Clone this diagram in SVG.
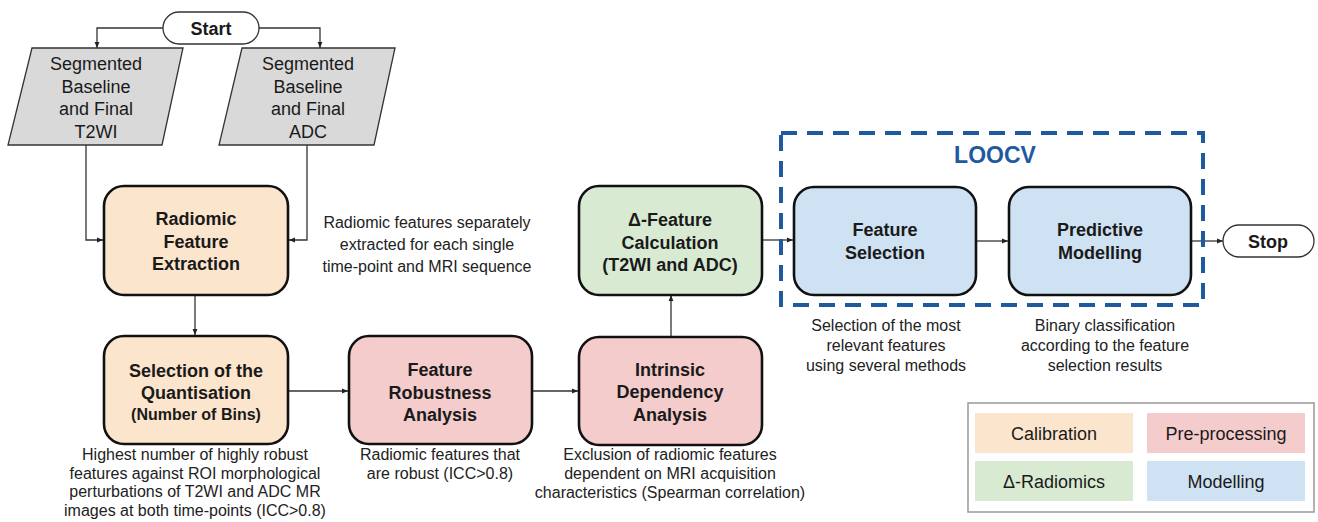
<svg xmlns="http://www.w3.org/2000/svg" width="1318" height="522" viewBox="0 0 1318 522">
<defs>
<marker id="arr" viewBox="0 0 10 10" refX="10" refY="5" markerWidth="6" markerHeight="6" orient="auto" markerUnits="userSpaceOnUse">
<path d="M0,1 L10,5 L0,9 z" fill="#222"/>
</marker>
<style>
.b{font-family:"Liberation Sans",Arial,sans-serif;font-weight:bold;font-size:18px;fill:#1a1a1a;text-anchor:middle}
.r{font-family:"Liberation Sans",Arial,sans-serif;font-size:18px;fill:#1a1a1a;text-anchor:middle}
.a{font-family:"Liberation Sans",Arial,sans-serif;font-size:16px;fill:#222;text-anchor:middle}
.box{stroke:#111;stroke-width:2.6}
.pill{fill:#fff;stroke:#333;stroke-width:1.3}
.cal{fill:#fce5cd}.pre{fill:#f4cccc}.del{fill:#d9ead3}.mod{fill:#cfe2f3}
.c{fill:none;stroke:#333;stroke-width:1.3;marker-end:url(#arr)}
</style>
</defs>
<rect width="1318" height="522" fill="#fff"/>

<g id="connectors">
<path class="c" d="M163,28 H97 V48"/>
<path class="c" d="M259,28 H320 V48"/>
<path class="c" d="M86,145 V240 H103"/>
<path class="c" d="M307,145 V240 H289"/>
<path class="c" d="M195,295 V335"/>
<path class="c" d="M288,391 H348"/>
<path class="c" d="M532,391 H578"/>
<path class="c" d="M671,337 V295"/>
<path class="c" d="M762,240 H793"/>
<path class="c" d="M976,241 H1008"/>
<path class="c" d="M1191,241 H1223"/>
</g>

<g id="start">
<rect class="pill" x="163" y="12" width="96" height="32" rx="16"/>
<text class="b" x="211" y="34.5">Start</text>
</g>

<g id="input-t2wi">
<polygon points="32,48 183,48 162,145 8,145" fill="#d9d9d9" stroke="#333" stroke-width="1.3"/>
<text class="r" x="96" y="70">Segmented</text>
<text class="r" x="96" y="92.5">Baseline</text>
<text class="r" x="96" y="115">and Final</text>
<text class="r" x="96" y="137.5">T2WI</text>
</g>

<g id="input-adc">
<polygon points="242,48 395,48 374,145 219,145" fill="#d9d9d9" stroke="#333" stroke-width="1.3"/>
<text class="r" x="308" y="70">Segmented</text>
<text class="r" x="308" y="92.5">Baseline</text>
<text class="r" x="308" y="115">and Final</text>
<text class="r" x="308" y="137.5">ADC</text>
</g>

<g id="extraction">
<rect class="box cal" x="104" y="186" width="184" height="109" rx="20"/>
<text class="b" x="196" y="225">Radiomic</text>
<text class="b" x="196" y="247.5">Feature</text>
<text class="b" x="196" y="270">Extraction</text>
<text class="a" x="427" y="228">Radiomic features separately</text>
<text class="a" x="427" y="250">extracted for each single</text>
<text class="a" x="427" y="272">time-point and MRI sequence</text>
</g>

<g id="quantisation">
<rect class="box cal" x="104" y="336" width="184" height="108" rx="20"/>
<text class="b" x="196" y="377">Selection of the</text>
<text class="b" x="196" y="399">Quantisation</text>
<text class="b" x="196" y="420" style="font-size:16px">(Number of Bins)</text>
<text class="a" x="195" y="460">Highest number of highly robust</text>
<text class="a" x="195" y="478.5">features against ROI morphological</text>
<text class="a" x="195" y="497">perturbations of T2WI and ADC MR</text>
<text class="a" x="195" y="515.5">images at both time-points (ICC&gt;0.8)</text>
</g>

<g id="robustness">
<rect class="box pre" x="349" y="336" width="183" height="108" rx="20"/>
<text class="b" x="440" y="376">Feature</text>
<text class="b" x="440" y="398.5">Robustness</text>
<text class="b" x="440" y="421">Analysis</text>
<text class="a" x="440" y="460">Radiomic features that</text>
<text class="a" x="440" y="479">are robust (ICC&gt;0.8)</text>
</g>

<g id="dependency">
<rect class="box pre" x="579" y="337" width="183" height="108" rx="20"/>
<text class="b" x="670" y="375.5">Intrinsic</text>
<text class="b" x="670" y="398">Dependency</text>
<text class="b" x="670" y="420.5">Analysis</text>
<text class="a" x="670" y="460">Exclusion of radiomic features</text>
<text class="a" x="670" y="479">dependent on MRI acquisition</text>
<text class="a" x="670" y="498">characteristics (Spearman correlation)</text>
</g>

<g id="delta">
<rect class="box del" x="579" y="186" width="183" height="109" rx="20"/>
<text class="b" x="670" y="226">Δ-Feature</text>
<text class="b" x="670" y="248.5">Calculation</text>
<text class="b" x="670" y="271">(T2WI and ADC)</text>
</g>

<g id="loocv">
<rect x="781" y="133" width="422" height="172" fill="none" stroke="#1f5a9e" stroke-width="4" stroke-dasharray="16,10"/>
<text class="b" x="995" y="163" style="font-size:23px;fill:#1f5a9e">LOOCV</text>
</g>

<g id="selection">
<rect class="box mod" x="794" y="187" width="182" height="108" rx="20"/>
<text class="b" x="885" y="236">Feature</text>
<text class="b" x="885" y="258.5">Selection</text>
<text class="a" x="886" y="331">Selection of the most</text>
<text class="a" x="886" y="351">relevant features</text>
<text class="a" x="886" y="371">using several methods</text>
</g>

<g id="modelling">
<rect class="box mod" x="1009" y="187" width="182" height="108" rx="20"/>
<text class="b" x="1100" y="236">Predictive</text>
<text class="b" x="1100" y="258.5">Modelling</text>
<text class="a" x="1105" y="331">Binary classification</text>
<text class="a" x="1105" y="351">according to the feature</text>
<text class="a" x="1105" y="371">selection results</text>
</g>

<g id="stop">
<rect class="pill" x="1223" y="225" width="91" height="32" rx="16"/>
<text class="b" x="1268" y="248">Stop</text>
</g>

<g id="legend">
<rect x="968" y="403" width="346" height="109" fill="#fff" stroke="#999" stroke-width="1.5"/>
<rect class="cal" x="975" y="413" width="158" height="40"/>
<rect class="pre" x="1147" y="413" width="158" height="40"/>
<rect class="del" x="975" y="461" width="158" height="40"/>
<rect class="mod" x="1147" y="461" width="158" height="40"/>
<text class="r" x="1054" y="439.5">Calibration</text>
<text class="r" x="1226" y="439.5">Pre-processing</text>
<text class="r" x="1054" y="487.5">Δ-Radiomics</text>
<text class="r" x="1226" y="487.5">Modelling</text>
</g>
</svg>
